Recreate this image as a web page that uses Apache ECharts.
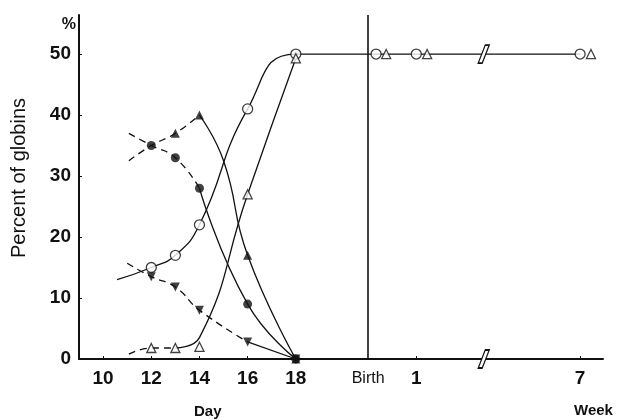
<!DOCTYPE html>
<html>
<head>
<meta charset="utf-8">
<script src="https://cdn.jsdelivr.net/npm/echarts@6/dist/echarts.min.js"></script>
<style>
    html, body { margin: 0; padding: 0; background: #fff; }
    #chart_Globins_Main { width: 617px; height: 420px; }
</style>
</head>
<body>
<div id="chart_Globins_Main"></div>
<script>
// tick values / labels (x: day axis, then birth and weeks)
var xTickValues = [10, 12, 14, 16, 18, 21, 23, 29.8];
var xTickLabels = ['10', '12', '14', '16', '18', 'Birth', '1', '7'];
var yTickValues = [0, 10, 20, 30, 40, 50];

// measured points [x, percent]
var filledCircle = [[12, 35], [13, 33], [14, 28], [16, 9], [18, 0]];
var filledTriangle = [[13, 37], [14, 40], [16, 17], [18, 0]];
var openCircle = [[12, 15], [13, 17], [14, 22], [16, 41], [18, 50], [21.33, 50], [23, 50], [29.8, 50]];
var openTriangle = [[12, 1.8], [13, 1.8], [14, 2], [16, 27], [18, 49.3], [21.75, 50], [23.45, 50], [30.25, 50]];
var downTriangle = [[12, 13.5], [13, 11.8], [14, 8], [16, 2.8], [18, 0]];

// hand drawn curves through the points
var filledCircleDash = [[11.07, 37], [12, 35], [13, 33], [14, 28]];
var filledCircleSolid = [[14, 28], [16, 9], [18, 0]];
var filledTriangleDash = [[11.07, 32.5], [12, 35], [13, 37], [14, 40]];
var filledTriangleSolid = [[14, 40], [15, 32.5], [16, 17], [18, 0]];
var openCircleSolid = [[10.58, 13], [12, 15], [13, 17], [14, 22], [16, 41], [18, 50], [29.8, 50]];
var openTriangleDash = [[11.07, 0.8], [12, 1.8], [13, 1.8]];
var openTriangleSolid = [[13, 1.8], [14, 3.5], [16, 27], [18, 49.3]];
var downTriangleDash = [[11, 15.7], [12, 13.5], [13, 11.8], [14, 8], [16, 2.8]];
var downTriangleSolid = [[16, 2.8], [18, 0]];

var birthX = 21;
var breakX = 25.8;

var INK = '#111';
var FONT = '"Liberation Sans", Arial, Helvetica, sans-serif';

var chart_Globins_Main = echarts.init(document.getElementById('chart_Globins_Main'));

function curve(data, dashed) {
    return {
        type: 'line',
        data: data,
        smooth: 0.5,
        showSymbol: false,
        symbol: 'none',
        silent: true,
        z: 2,
        lineStyle: { color: INK, width: 1.3, type: dashed ? [7, 5] : 'solid' }
    };
}

function marks(data, symbol, size, open, rotate) {
    return {
        type: 'scatter',
        data: data,
        symbol: symbol,
        symbolSize: size,
        symbolRotate: rotate || 0,
        silent: true,
        z: 4,
        itemStyle: {
            color: open ? '#fff' : INK,
            borderColor: INK,
            borderWidth: open ? 1.3 : 0
        }
    };
}

var option = {
    animation: false,
    backgroundColor: '#fff',
    grid: { left: 79, right: 14, top: 15, bottom: 61 },
    xAxis: {
        type: 'value',
        min: 9,
        max: 30.75,
        axisLine: { lineStyle: { color: INK, width: 2 } },
        axisTick: {
            inside: true, length: 3,
            customValues: [10, 12, 14, 16, 18, 23, 29.8],
            lineStyle: { color: INK, width: 1 }
        },
        splitLine: { show: false },
        axisLabel: {
            customValues: xTickValues,
            margin: 10,
            formatter: function (v) {
                var i = xTickValues.indexOf(v);
                if (i < 0) return '';
                return i === 5 ? '{n|' + xTickLabels[i] + '}' : '{b|' + xTickLabels[i] + '}';
            },
            rich: {
                b: { fontFamily: FONT, fontSize: 19, fontWeight: 'bold', color: INK },
                n: { fontFamily: FONT, fontSize: 16, color: INK, padding: [2, 0, 0, 0] }
            }
        }
    },
    yAxis: {
        type: 'value',
        min: 0,
        max: 56.4,
        name: '%',
        nameLocation: 'end',
        nameGap: 0,
        nameTextStyle: {
            fontFamily: FONT, fontSize: 16, fontWeight: 'bold', color: INK,
            align: 'right', verticalAlign: 'top', padding: [2, 3, 0, 0]
        },
        axisLine: { lineStyle: { color: INK, width: 2 } },
        axisTick: {
            inside: true, length: 3,
            customValues: yTickValues,
            lineStyle: { color: INK, width: 1 }
        },
        splitLine: { show: false },
        axisLabel: {
            customValues: yTickValues,
            margin: 8,
            fontFamily: FONT, fontSize: 19, fontWeight: 'bold', color: INK
        }
    },
    graphic: [
        { type: 'text', left: 194, top: 404, style: { text: 'Day', font: 'bold 15px ' + FONT, fill: INK } },
        { type: 'text', left: 574, top: 403, style: { text: 'Week', font: 'bold 15px ' + FONT, fill: INK } },
        {
            type: 'text', x: 19, y: 178, rotation: Math.PI / 2,
            style: {
                text: 'Percent of globins', font: '20px ' + FONT, fill: INK,
                align: 'center', verticalAlign: 'middle'
            }
        }
    ],
    series: [
        curve(filledCircleDash, true),
        curve(filledCircleSolid, false),
        curve(filledTriangleDash, true),
        curve(filledTriangleSolid, false),
        curve(openCircleSolid, false),
        curve(openTriangleDash, true),
        curve(openTriangleSolid, false),
        curve(downTriangleDash, true),
        curve(downTriangleSolid, false),
        {
            // birth line and the axis breaks
            type: 'line',
            data: [],
            silent: true,
            z: 3,
            markLine: {
                silent: true,
                symbol: 'none',
                label: { show: false },
                lineStyle: { color: INK, width: 1.6, type: 'solid' },
                data: [{ xAxis: birthX }]
            },
            markPoint: {
                silent: true,
                symbol: 'path://M7,0 L11,0 L4,18 L0,18 Z',
                symbolSize: [11, 18],
                label: { show: false },
                itemStyle: { color: '#fff', borderColor: INK, borderWidth: 1.4 },
                data: [{ coord: [breakX, 50] }, { coord: [breakX, 0] }]
            }
        },
        marks(downTriangle, 'triangle', 9, false, 180),
        marks(filledCircle, 'circle', 9, false),
        marks(filledTriangle, 'triangle', 9, false),
        marks(openCircle, 'circle', 10, true),
        marks(openTriangle, 'triangle', 9, true)
    ]
};

chart_Globins_Main.setOption(option);
</script>
</body>
</html>
